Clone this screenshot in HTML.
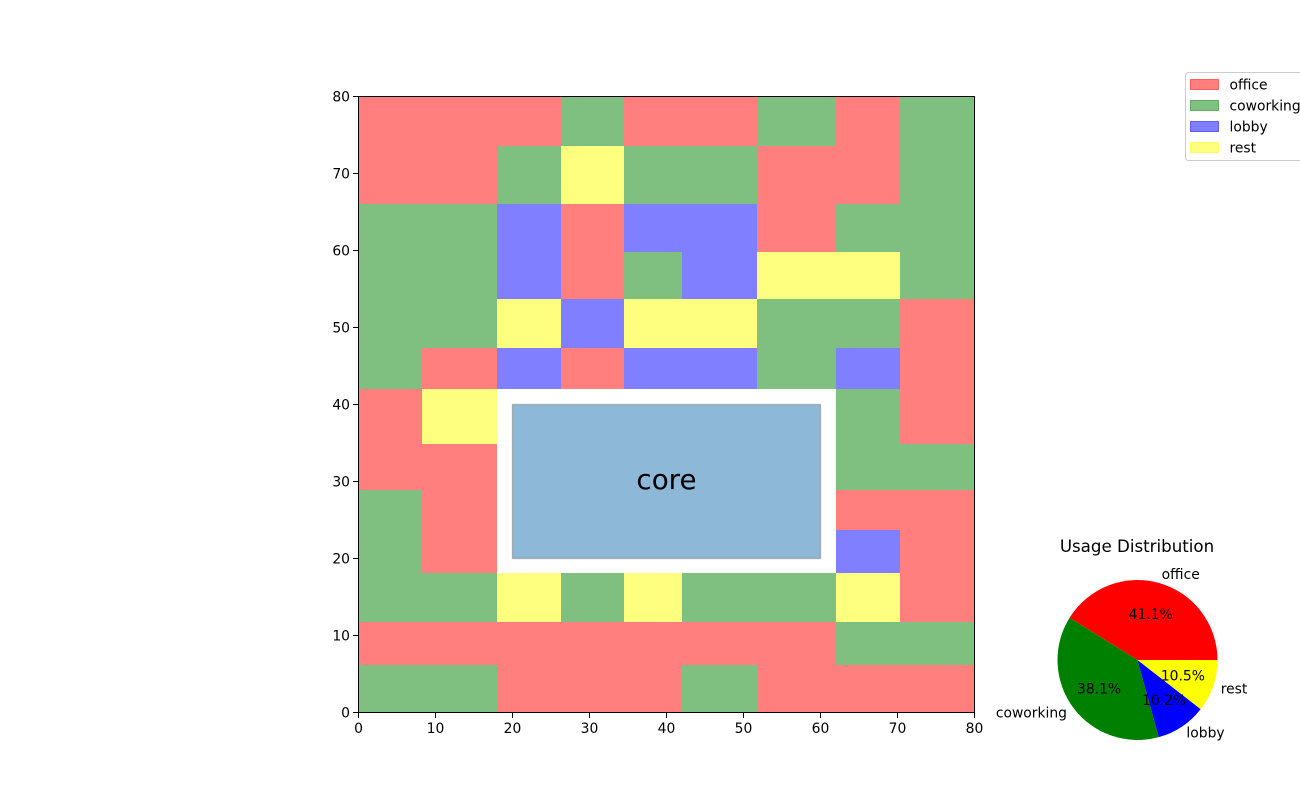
<!DOCTYPE html>
<html lang="en">
<head>
<meta charset="utf-8">
<title>Floor plan usage</title>
<style>
html,body{margin:0;padding:0;background:#fff;}
svg{display:block;}
text{font-family:"DejaVu Sans","Liberation Sans",sans-serif;fill:#000;}
</style>
</head>
<body>
<svg id="chart" xmlns="http://www.w3.org/2000/svg" width="1300" height="800" viewBox="0 0 1300 800">
  <g id="cells"></g>
  <g id="core"></g>
  <g id="axes"></g>
  <g id="pie"></g>
  <text x="1137" y="552" font-size="16.67" text-anchor="middle">Usage Distribution</text>
  <g id="legend"></g>
</svg>
<script>
// Category names and colours
const categories = ['office', 'coworking', 'lobby', 'rest'];
const categoryColors = ['#ff0000', '#008000', '#0000ff', '#ffff00'];

// Zone edges in plan units
const columnEdges = [0, 8.2, 18, 26.3, 34.5, 42, 51.8, 62, 70.3, 80];
const rowEdges = [80, 73.6, 66, 59.8, 53.7, 47.3, 42, 34.9, 28.9, 23.7, 18.1, 11.75, 6.15, 0];

// Zone usage by row (top to bottom), one letter per column; "_" is empty
const zoneRows = [
  'OOOCOOCOC',
  'OOCRCCOOC',
  'CCLOLLOCC',
  'CCLOCLRRC',
  'CCRLRRCCO',
  'COLOLLCLO',
  'OR_____CO',
  'OO_____CC',
  'CO_____OO',
  'CO_____LO',
  'CCRCRCCRO',
  'OOOOOOOCC',
  'CCOOOCOOO'
];
const zoneLetters = ['O', 'C', 'L', 'R'];

// Core block in plan units: left, right, bottom, top
const coreBounds = [20, 60, 20, 40];
const coreLabel = 'core';

// Tick labels
const xTicks = [0, 10, 20, 30, 40, 50, 60, 70, 80];
const yTicks = [0, 10, 20, 30, 40, 50, 60, 70, 80];

// Pie shares
const pieValues = [41.1, 38.1, 10.2, 10.5];

const SVGNS = 'http://www.w3.org/2000/svg';
const xDomain = [0, 80];
const yDomain = [0, 80];
const plot = { left: 358.5, right: 974.5, top: 96.5, bottom: 712.5 };
const xScale = v => plot.left + (v - xDomain[0]) / (xDomain[1] - xDomain[0]) * (plot.right - plot.left);
const yScale = v => plot.bottom - (v - yDomain[0]) / (yDomain[1] - yDomain[0]) * (plot.bottom - plot.top);

function make(tag, attrs, parent) {
  const el = document.createElementNS(SVGNS, tag);
  for (const k in attrs) el.setAttribute(k, attrs[k]);
  parent.appendChild(el);
  return el;
}

// Cells
const cellsG = document.getElementById('cells');
zoneRows.forEach((row, r) => {
  row.split('').forEach((letter, c) => {
    const idx = zoneLetters.indexOf(letter);
    if (idx < 0) return;
    const x0 = Math.round(xScale(columnEdges[c]));
    const x1 = Math.round(xScale(columnEdges[c + 1]));
    const y0 = Math.round(yScale(rowEdges[r]));
    const y1 = Math.round(yScale(rowEdges[r + 1]));
    const cell = make('rect', { x: x0, y: y0, width: x1 - x0, height: y1 - y0, fill: categoryColors[idx], 'fill-opacity': 0.5 }, cellsG);
    
    
  });
});

// Core
const coreG = document.getElementById('core');
const coreX = xScale(coreBounds[0]);
const coreY = yScale(coreBounds[3]);
const coreRect = make('rect', {
  x: coreX, y: coreY,
  width: xScale(coreBounds[1]) - coreX,
  height: yScale(coreBounds[2]) - coreY,
  fill: '#1b71b1', 'fill-opacity': 0.5,
  stroke: '#808080', 'stroke-opacity': 0.5, 'stroke-width': 1.4
}, coreG);


const coreText = make('text', {
  x: xScale((coreBounds[0] + coreBounds[1]) / 2),
  y: yScale((coreBounds[2] + coreBounds[3]) / 2) + 7.5,
  'font-size': 27.78, 'text-anchor': 'middle'
}, coreG);
coreText.textContent = coreLabel;



// Axes
const axesG = document.getElementById('axes');
xTicks.forEach(t => {
  const px = xScale(t);
  const tick = make('line', { x1: px, x2: px, y1: plot.bottom, y2: plot.bottom + 5.5, stroke: '#000', 'stroke-width': 1, 'shape-rendering': 'crispEdges' }, axesG);
  
  
  const label = make('text', { x: px, y: plot.bottom + 20.5, 'font-size': 13.89, 'text-anchor': 'middle' }, axesG);
  label.textContent = t;
  
  
});
yTicks.forEach(t => {
  const py = yScale(t);
  const tick = make('line', { x1: plot.left, x2: plot.left - 5.5, y1: py, y2: py, stroke: '#000', 'stroke-width': 1, 'shape-rendering': 'crispEdges' }, axesG);
  
  
  const label = make('text', { x: plot.left - 8.5, y: py + 5, 'font-size': 13.89, 'text-anchor': 'end' }, axesG);
  label.textContent = t;
  
  
});
const frame = make('rect', { x: plot.left, y: plot.top, width: plot.right - plot.left, height: plot.bottom - plot.top, fill: 'none', stroke: '#000', 'stroke-width': 1, 'shape-rendering': 'crispEdges' }, axesG);



// Pie
const pieG = document.getElementById('pie');
const pieCx = 1137.5, pieCy = 660, pieR = 80;
const pieTotal = pieValues.reduce((a, b) => a + b, 0);
let startAngle = 0;
pieValues.forEach((v, i) => {
  const sweep = v / pieTotal * 2 * Math.PI;
  const endAngle = startAngle + sweep;
  const d = 'M' + pieCx + ' ' + pieCy +
    'L' + (pieCx + pieR * Math.cos(startAngle)) + ' ' + (pieCy - pieR * Math.sin(startAngle)) +
    'A' + pieR + ' ' + pieR + ' 0 ' + (sweep > Math.PI ? 1 : 0) + ' 0 ' +
    (pieCx + pieR * Math.cos(endAngle)) + ' ' + (pieCy - pieR * Math.sin(endAngle)) + 'Z';
  const slice = make('path', { d: d, fill: categoryColors[i] }, pieG);
  
  
  startAngle = endAngle;
});
startAngle = 0;
pieValues.forEach((v, i) => {
  const sweep = v / pieTotal * 2 * Math.PI;
  const mid = startAngle + sweep / 2;
  const lx = pieCx + 1.1 * pieR * Math.cos(mid);
  const ly = pieCy - 1.1 * pieR * Math.sin(mid);
  // Labels above the pie sit a little higher, matching the bbox-centred baseline.
  const nudge = Math.sin(mid) > 0.5 ? 3.6 : (Math.sin(mid) < -0.7 ? 4.3 : 5);
  const name = make('text', { x: lx, y: ly + nudge, 'font-size': 13.89, 'text-anchor': Math.cos(mid) >= 0 ? 'start' : 'end' }, pieG);
  name.textContent = categories[i];
  
  
  const px = pieCx + 0.6 * pieR * Math.cos(mid);
  const py = pieCy - 0.6 * pieR * Math.sin(mid);
  const pct = make('text', { x: px, y: py + 5, 'font-size': 13.89, 'text-anchor': 'middle' }, pieG);
  pct.textContent = (v / pieTotal * 100).toFixed(1) + '%';
  
  
  startAngle += sweep;
});

// Legend
const legendG = document.getElementById('legend');
const legendBox = make('rect', { x: 1185.5, y: 72.5, width: 130, height: 88, rx: 3, ry: 3, fill: '#fff', 'fill-opacity': 0.8, stroke: '#ccc', 'stroke-width': 1 }, legendG);


categories.forEach((name, i) => {
  const rowY = 79.5 + i * 21;
  const swatch = make('rect', { x: 1190.5, y: rowY, width: 28, height: 10, fill: categoryColors[i], 'fill-opacity': 0.5, stroke: categoryColors[i], 'stroke-opacity': 0.5, 'stroke-width': 1 }, legendG);
  
  
  const label = make('text', { x: 1229.5, y: rowY + 10, 'font-size': 13.89 }, legendG);
  label.textContent = name;
  
  
});
</script>
</body>
</html>
